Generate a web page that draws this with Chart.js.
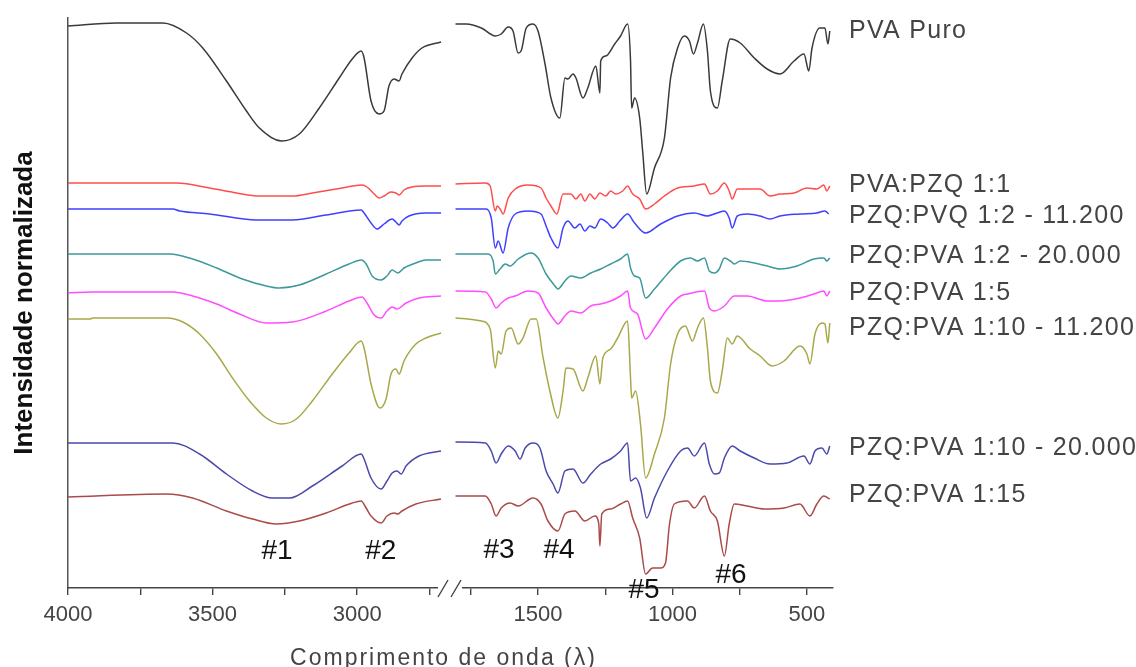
<!DOCTYPE html>
<html>
<head>
<meta charset="utf-8">
<script src="https://cdn.jsdelivr.net/npm/chart.js@4.4.1/dist/chart.umd.min.js"></script>
<style>
html, body { margin: 0; padding: 0; background: #fff; }
canvas { display: block; }
</style>
</head>
<body>
<canvas id="chartCanvas" width="1136" height="667"></canvas>
<script>
// the x axis is broken: 4000-2700 on the left, 1800-400 on the right
const leftRange = [2672, 4000];
const rightRange = [403, 1820];
const tickStep = 250;

const seriesNames = ['PVA Puro', 'PVA:PZQ 1:1', 'PZQ:PVQ 1:2 - 11.200', 'PZQ:PVA 1:2 - 20.000',
    'PZQ:PVA 1:5', 'PZQ:PVA 1:10 - 11.200', 'PZQ:PVA 1:10 - 20.000', 'PZQ:PVA 1:15'];
const seriesColors = ['#3a3a3a', '#ff4d4d', '#4040ff', '#3d9999', '#ff4dff', '#a8a84a', '#4a4aaa', '#aa4a4a'];
const labelLevels = [550, 396, 365, 325, 288, 253, 133, 86];

const peakNames = ['#1', '#2', '#3', '#4', '#5', '#6'];
const peakWn = [3277, 2918, 1645, 1422, 1106, 782];
const peakLevels = [29, 29, 30, 30, -10, 5];

// [wavenumber, intensity] pairs
const pvaPuroLeft = [[4000,562],[3831,565],[3672,565],[3590,555],[3534,540],[3452,507],[3383,477],[3338,460],[3262,447],[3200,454],[3131,480],[3062,510],[3017,529],[2986,537],[2976,530],[2952,487],[2924,474],[2907,477],[2890,502],[2872,509],[2855,507],[2845,514],[2810,530],[2776,540],[2710,546]];
const pvaPuroRight = [[1807,564],[1767,564],[1711,560],[1659,552],[1637,554],[1611,561],[1593,557],[1574,535],[1563,537],[1544,560],[1519,564],[1500,557],[1474,524],[1452,490],[1419,470],[1400,510],[1389,509],[1370,514],[1359,510],[1333,490],[1315,500],[1285,522],[1270,495],[1267,527],[1248,532],[1215,544],[1193,552],[1167,564],[1156,527],[1152,480],[1141,490],[1122,470],[1111,437],[1096,394],[1067,420],[1030,450],[1007,510],[981,540],[956,552],[937,547],[922,534],[907,545],[885,564],[870,537],[859,497],[833,480],[815,507],[785,549],[748,545],[696,530],[648,519],[600,514],[548,527],[511,534],[493,517],[481,540],[452,560],[433,560],[422,544],[415,557]];

const pva11Left = [[4000,405],[3624,405],[3510,400],[3417,395],[3338,392],[3224,392],[3155,395],[3052,400],[2983,403],[2966,401],[2941,394],[2924,390],[2907,392],[2883,396],[2866,395],[2855,393],[2838,398],[2810,401],[2762,402],[2710,402]];
const pva11Right = [[1807,404],[1696,405],[1678,402],[1659,377],[1652,382],[1641,379],[1630,374],[1611,390],[1585,399],[1537,403],[1489,400],[1470,390],[1452,382],[1430,374],[1407,394],[1378,394],[1359,389],[1341,394],[1326,387],[1307,394],[1289,389],[1270,395],[1248,392],[1230,397],[1211,394],[1185,397],[1167,402],[1148,394],[1122,389],[1100,379],[1067,384],[1030,392],[981,400],[919,402],[881,404],[859,394],[833,397],[807,405],[789,397],[778,389],[759,399],[722,399],[674,399],[637,392],[600,394],[548,395],[500,400],[463,399],[437,403],[426,397],[415,402]];

const pzq12aLeft = [[4000,379],[3638,379],[3614,377],[3510,374],[3348,368],[3224,368],[3107,373],[2986,378],[2976,375],[2952,365],[2931,359],[2907,364],[2879,369],[2866,366],[2855,363],[2845,367],[2821,372],[2762,375],[2710,375]];
const pzq12aRight = [[1807,379],[1693,379],[1674,370],[1659,340],[1648,347],[1630,335],[1611,360],[1585,374],[1537,377],[1489,374],[1470,362],[1452,350],[1426,340],[1407,360],[1389,367],[1363,360],[1344,364],[1326,357],[1307,362],[1289,360],[1267,369],[1241,365],[1222,360],[1196,367],[1167,374],[1141,365],[1100,355],[1044,364],[981,372],[919,375],[870,372],[844,374],[807,377],[789,370],[778,360],[759,372],[722,374],[674,372],[637,369],[600,372],[526,374],[463,375],[433,377],[419,374]];

const pzq12bLeft = [[4000,334],[3648,334],[3569,329],[3486,320],[3397,309],[3314,302],[3269,300],[3200,303],[3107,314],[3028,324],[2986,328],[2969,324],[2948,312],[2917,308],[2897,312],[2879,318],[2859,315],[2838,320],[2797,325],[2762,328],[2710,328]];
const pzq12bRight = [[1807,334],[1685,334],[1667,327],[1659,314],[1641,319],[1622,324],[1604,322],[1574,329],[1526,335],[1500,330],[1470,314],[1437,302],[1426,299],[1400,307],[1378,312],[1341,310],[1304,315],[1267,319],[1230,324],[1193,329],[1167,334],[1156,320],[1141,312],[1122,310],[1100,290],[1067,299],[1019,314],[970,327],[933,330],[907,327],[881,330],[863,317],[844,315],[826,319],[807,330],[785,327],[770,324],[748,327],[696,325],[648,322],[600,319],[537,322],[474,329],[437,330],[426,327],[415,330]];

const pzq15Left = [[4000,295],[3914,296],[3638,296],[3569,292],[3486,284],[3407,274],[3314,265],[3224,266],[3107,277],[3028,287],[2983,291],[2966,285],[2941,273],[2917,270],[2897,277],[2879,281],[2862,279],[2831,285],[2786,290],[2710,292]];
const pzq15Right = [[1807,297],[1696,296],[1674,289],[1656,280],[1637,285],[1611,290],[1585,292],[1537,297],[1500,295],[1470,280],[1437,267],[1426,264],[1400,272],[1378,277],[1341,275],[1304,282],[1267,284],[1230,287],[1193,292],[1167,297],[1156,280],[1130,274],[1100,249],[1067,260],[1019,279],[970,292],[944,294],[881,297],[863,280],[844,277],[807,282],[770,292],[722,292],[648,287],[600,287],[526,290],[474,294],[437,297],[426,292],[415,297]];

const pzq110aLeft = [[4000,269],[3924,269],[3914,270],[3659,270],[3603,266],[3545,254],[3486,234],[3431,210],[3372,187],[3314,170],[3262,164],[3210,169],[3155,187],[3086,214],[3028,235],[2986,247],[2976,240],[2952,204],[2921,180],[2900,189],[2883,214],[2866,219],[2855,214],[2838,227],[2797,244],[2762,250],[2710,255]];
const pzq110aRight = [[1807,270],[1711,267],[1678,259],[1659,220],[1648,237],[1637,234],[1619,257],[1600,260],[1574,244],[1556,250],[1526,269],[1507,269],[1481,230],[1456,197],[1426,170],[1407,197],[1396,220],[1370,219],[1333,197],[1315,210],[1285,232],[1270,204],[1259,230],[1230,239],[1204,250],[1167,267],[1156,210],[1152,190],[1137,197],[1119,164],[1100,110],[1067,134],[1030,170],[1007,224],[981,254],[952,262],[926,247],[907,260],[885,270],[870,240],[859,207],[833,195],[815,217],[796,250],[778,244],[759,252],[711,239],[674,232],[630,222],[585,227],[526,242],[500,234],[489,224],[470,254],[444,265],[433,264],[422,245],[415,265]];

const pzq110bLeft = [[4000,145],[3638,145],[3545,134],[3452,114],[3362,97],[3293,90],[3234,90],[3155,102],[3052,122],[2986,134],[2976,129],[2952,110],[2917,99],[2897,107],[2879,115],[2862,117],[2848,114],[2831,122],[2786,132],[2710,137]];
const pzq110bRight = [[1807,146],[1696,145],[1674,137],[1656,125],[1637,134],[1611,142],[1585,137],[1567,129],[1548,140],[1519,145],[1493,140],[1470,117],[1444,104],[1426,95],[1400,117],[1370,119],[1333,105],[1304,114],[1267,124],[1230,129],[1193,137],[1167,145],[1156,107],[1137,110],[1119,100],[1096,70],[1067,90],[1019,117],[970,137],[944,140],[919,132],[881,145],[863,124],[844,114],[826,115],[807,130],[778,142],[748,137],[696,130],[637,124],[574,125],[511,132],[489,124],[470,137],[444,140],[426,134],[415,142]];

const pzq115Left = [[4000,91],[3659,94],[3569,90],[3452,77],[3362,69],[3279,64],[3200,67],[3107,75],[3017,85],[2986,87],[2969,80],[2952,72],[2917,65],[2897,72],[2872,75],[2859,74],[2845,77],[2797,84],[2710,89]];
const pzq115Right = [[1807,92],[1696,92],[1674,84],[1656,72],[1637,80],[1604,85],[1574,82],[1519,90],[1489,84],[1463,67],[1426,57],[1400,74],[1363,77],[1326,67],[1289,72],[1274,64],[1270,42],[1263,74],[1230,79],[1193,84],[1167,87],[1148,70],[1122,50],[1100,14],[1074,20],[1044,20],[1026,25],[1011,64],[993,84],[944,87],[919,80],[881,92],[859,77],[833,67],[807,32],[789,64],[770,84],[722,82],[659,79],[585,80],[526,84],[489,72],[463,84],[437,92],[415,89]];

const leftParts = [pvaPuroLeft, pva11Left, pzq12aLeft, pzq12bLeft, pzq15Left, pzq110aLeft, pzq110bLeft, pzq115Left];
const rightParts = [pvaPuroRight, pva11Right, pzq12aRight, pzq12bRight, pzq15Right, pzq110aRight, pzq110bRight, pzq115Right];

const fontFamily = '"Liberation Sans", Arial, sans-serif';

const datasets = [];
seriesNames.forEach((name, i) => {
    [[leftParts[i], 'xL'], [rightParts[i], 'xR']].forEach(([pts, axisId]) => {
        datasets.push({
            label: name,
            data: pts.map(p => ({ x: p[0], y: p[1] })),
            xAxisID: axisId,
            borderColor: seriesColors[i],
            borderWidth: 1.5,
            pointRadius: 0,
            cubicInterpolationMode: 'monotone',
            fill: false
        });
    });
});

function xAxis(range) {
    return {
        type: 'linear',
        position: 'bottom',
        stack: 'wavenumber',
        stackWeight: range === leftRange ? 384 : 381,
        reverse: true,
        min: range[0],
        max: range[1],
        border: { display: true, color: '#444', width: 1.4 },
        grid: { display: true, drawOnChartArea: false, drawTicks: true, tickLength: 7, color: '#444', lineWidth: 1.4 },
        ticks: {
            stepSize: tickStep,
            includeBounds: false,
            autoSkip: false,
            maxRotation: 0,
            padding: 7,
            color: '#444',
            font: { family: fontFamily, size: 22 },
            callback: v => (v % 500 === 0 ? String(v) : '')
        }
    };
}

// labels, peak marks, axis break and axis title
const annotations = {
    id: 'annotations',
    afterDraw(chart) {
        const ctx = chart.ctx;
        const area = chart.chartArea;
        const xL = chart.scales.xL;
        const xR = chart.scales.xR;
        const y = chart.scales.y;
        ctx.save();

        const j = xL.right;
        const base = xL.top;
        ctx.fillStyle = '#fff';
        ctx.fillRect(j - 14, base - 3, 24, 6);
        ctx.strokeStyle = '#444';
        ctx.lineWidth = 1.4;
        ctx.beginPath();
        ctx.moveTo(j - 14, base + 9);
        ctx.lineTo(j - 4, base - 8);
        ctx.moveTo(j - 1, base + 9);
        ctx.lineTo(j + 9, base - 8);
        ctx.stroke();

        ctx.fillStyle = '#111';
        ctx.font = '28px ' + fontFamily;
        ctx.textAlign = 'center';
        ctx.textBaseline = 'alphabetic';
        peakNames.forEach((name, i) => {
            const scale = peakWn[i] > 2000 ? xL : xR;
            ctx.fillText(name, scale.getPixelForValue(peakWn[i]), y.getPixelForValue(peakLevels[i]));
        });

        ctx.fillStyle = '#444';
        ctx.font = '25px ' + fontFamily;
        ctx.letterSpacing = '1.3px';
        ctx.textAlign = 'left';
        seriesNames.forEach((name, i) => {
            ctx.fillText(name, area.right + 16, y.getPixelForValue(labelLevels[i]));
        });

        ctx.font = '23px ' + fontFamily;
        ctx.letterSpacing = '2px';
        ctx.textAlign = 'center';
        ctx.fillText('Comprimento de onda (\u03bb)', (area.left + area.right) / 2 - 7, 665);
        ctx.restore();
    }
};

const ctx = document.getElementById('chartCanvas').getContext('2d');
const chartInstance = new Chart(ctx, {
    type: 'line',
    data: { datasets },
    options: {
        responsive: false,
        animation: false,
        layout: { padding: { left: 4, right: 303, top: 18, bottom: 31.6 } },
        plugins: {
            legend: { display: false },
            tooltip: { enabled: false }
        },
        scales: {
            y: {
                position: 'left',
                min: 0,
                max: 570,
                border: { display: true, color: '#555', width: 1.5 },
                grid: { display: false, drawTicks: false },
                ticks: { display: false },
                title: {
                    display: true,
                    text: 'Intensidade normalizada',
                    color: '#111',
                    font: { family: fontFamily, size: 26, weight: 'bold' },
                    padding: { top: 5, bottom: 27.8 }
                }
            },
            xL: xAxis(leftRange),
            xR: xAxis(rightRange)
        }
    },
    plugins: [annotations]
});
</script>
</body>
</html>
